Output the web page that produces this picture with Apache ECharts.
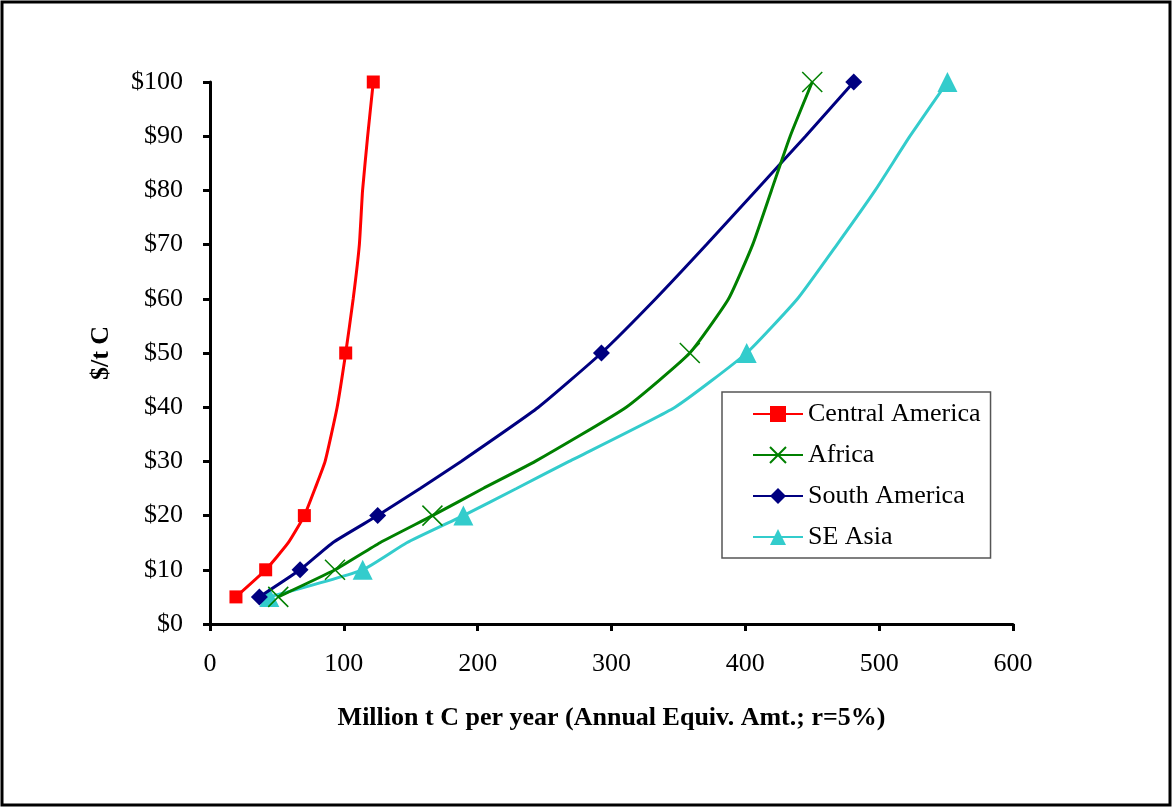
<!DOCTYPE html>
<html>
<head>
<meta charset="utf-8">
<script src="https://cdn.jsdelivr.net/npm/echarts@6/dist/echarts.min.js"></script>
<style>
html,body{margin:0;padding:0;background:#fff;}
#chart{width:1172px;height:807px;}
</style>
</head>
<body>
<div id="chart"></div>
<script>
// Price levels ($/t C) and quantities (Million t C per year)
const prices = [5, 10, 15, 20, 25, 30, 40, 50, 60, 70, 80, 90, 100];
const markedPrices = [5, 10, 20, 50, 100];
const seriesNames = ['Central America', 'Africa', 'South America', 'SE Asia'];
const centralAmerica = [19.4, 41.6, 58.5, 70.5, 78.5, 86, 95, 101.4, 107, 111.6, 114, 117.8, 122];
const africa = [51, 93.4, 127, 166.2, 204, 243, 311, 358.5, 387.5, 405.5, 419.5, 433.5, 450];
const southAmerica = [36.9, 67.3, 91.7, 125.3, 157, 187.6, 245.4, 292.5, 333, 371, 408, 445, 481];
const seAsia = [44.3, 114.1, 147, 189.3, 229, 268.3, 347.5, 401, 439, 468.5, 497, 523, 551];
const xTicks = [0, 100, 200, 300, 400, 500, 600];

const FONT = '"Liberation Serif", "Times New Roman", serif';

function build(qty) {
  return qty.map((q, i) => {
    const p = prices[i];
    const item = { value: [q, p] };
    if (markedPrices.indexOf(p) < 0) item.symbol = 'none';
    return item;
  });
}

const styles = [
  { color: '#FF0000', symbol: 'rect', symbolSize: 13 },
  { color: '#008000', symbol: 'path://M0,0L10,10M10,0L0,10', symbolSize: 20, cross: true },
  { color: '#000080', symbol: 'diamond', symbolSize: 17 },
  { color: '#33CCCC', symbol: 'triangle', symbolSize: 20 }
];
const datasets = [centralAmerica, africa, southAmerica, seAsia];

const series = datasets.map((d, k) => {
  const s = styles[k];
  return {
    name: seriesNames[k],
    type: 'line',
    data: build(d),
    symbol: s.symbol,
    symbolSize: s.symbolSize,
    showAllSymbol: true,
    smooth: 0.15,
    lineStyle: { color: s.color, width: 3 },
    itemStyle: s.cross
      ? { color: 'rgba(0,0,0,0)', borderColor: s.color, borderWidth: 1.5 }
      : { color: s.color, borderWidth: 0 },
    emphasis: { disabled: true },
    animation: false,
    z: 10 - k
  };
});

const chart = echarts.init(document.getElementById('chart'), null, { renderer: 'canvas' });
chart.setOption({
  backgroundColor: '#fff',
  animation: false,
  grid: { left: 210, right: 159, top: 82, bottom: 183, containLabel: false },
  xAxis: {
    type: 'value', min: 0, max: 600, interval: 100,
    name: 'Million t C per year (Annual Equiv. Amt.; r=5%)',
    nameLocation: 'middle', nameGap: 81,
    nameTextStyle: { fontFamily: FONT, fontSize: 26, fontWeight: 'bold', color: '#000' },
    axisLine: { show: true, lineStyle: { color: '#000', width: 3 } },
    axisTick: { show: true, inside: false, length: 7, lineStyle: { color: '#000', width: 3 } },
    axisLabel: { fontFamily: FONT, fontSize: 26, color: '#000', margin: 27,
      formatter: v => (xTicks.indexOf(v) >= 0 ? String(v) : '') },
    splitLine: { show: false }
  },
  yAxis: {
    type: 'value', min: 0, max: 100, interval: 10,
    name: '$/t C', nameLocation: 'middle', nameGap: 96, nameRotate: 90,
    nameTextStyle: { fontFamily: FONT, fontSize: 26, fontWeight: 'bold', color: '#000' },
    axisLine: { show: true, lineStyle: { color: '#000', width: 3 } },
    axisTick: { show: true, inside: false, length: 7, lineStyle: { color: '#000', width: 3 } },
    axisLabel: { fontFamily: FONT, fontSize: 26, color: '#000', margin: 27, formatter: v => '$' + v },
    splitLine: { show: false }
  },
  legend: {
    orient: 'vertical', left: 722, top: 392,
    data: seriesNames,
    backgroundColor: '#fff', borderColor: '#555', borderWidth: 1.5,
    padding: [9, 10, 8, 30], itemGap: 15, itemWidth: 50, itemHeight: 20,
    textStyle: { fontFamily: FONT, fontSize: 26, color: '#000', lineHeight: 26 },
    selectedMode: false
  },
  graphic: [{
    type: 'rect', shape: { x: 2, y: 2, width: 1168, height: 803 },
    style: { fill: 'none', stroke: '#000', lineWidth: 3 }, silent: true, z: 100
  }],
  series: series
});
</script>
</body>
</html>
